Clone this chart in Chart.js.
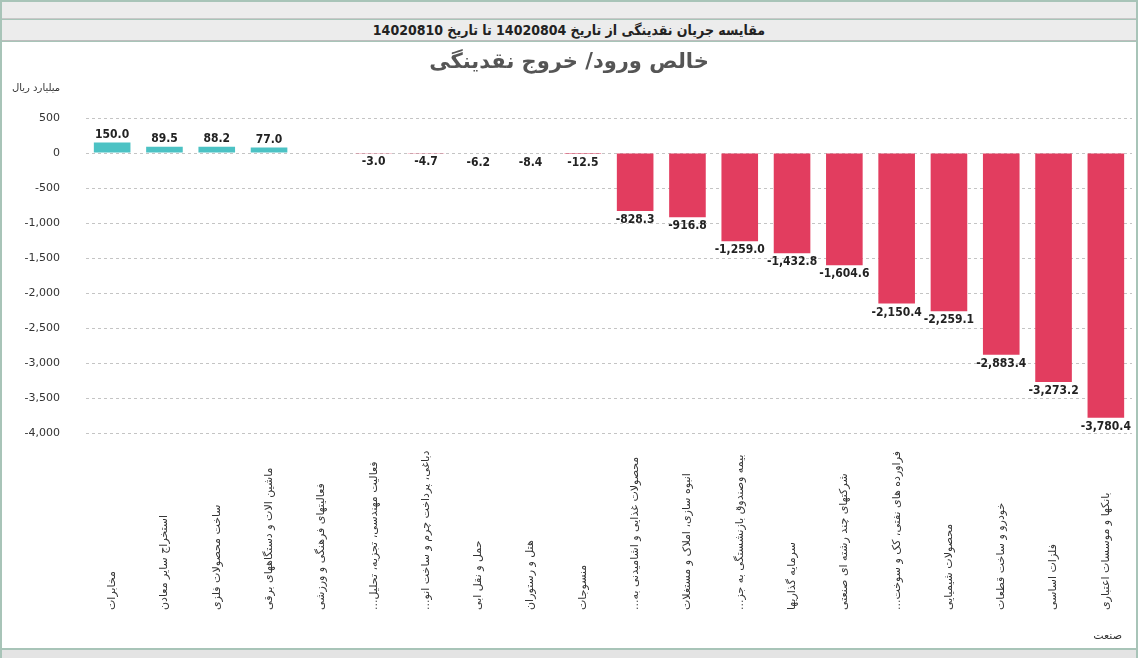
<!DOCTYPE html>
<html><head><meta charset="utf-8">
<script src="https://cdn.jsdelivr.net/npm/chart.js@4/dist/chart.umd.min.js"></script>
<style>
body{margin:0;width:1138px;height:658px;background:#a8c4b8;font-family:"DejaVu Sans",sans-serif;overflow:hidden;position:relative}
.bar1{position:absolute;left:2px;top:2px;width:1134px;height:16px;background:#ececec;border-bottom:1px solid #c8c8c8}
.bar2{position:absolute;left:2px;top:20px;width:1134px;height:20px;background:#ececec;border-bottom:1px solid #bdbdbd;text-align:center;font:bold 14px "DejaVu Sans Condensed","DejaVu Sans";line-height:20px;color:#222}
.panel{position:absolute;left:2px;top:42px;width:1134px;height:606px;background:#fff}
.title{position:absolute;left:0;width:1134px;top:7px;text-align:center;font:bold 21px "DejaVu Sans";color:#555}
.unit{position:absolute;left:10px;top:40px;font:10px "DejaVu Sans";color:#333}
.foot{position:absolute;left:2px;top:650px;width:1134px;height:8px;background:#e4e4e4}
.sanat{position:absolute;right:14px;bottom:6px;font:11px "DejaVu Sans";color:#333}
canvas{position:absolute;left:0;top:0}
</style></head><body>
<div class="bar1"></div>
<div class="bar2">مقایسه جریان نقدینگی از تاریخ 14020804 تا تاریخ 14020810</div>
<div class="panel">
  <canvas id="c" width="1134" height="606"></canvas>
  <div class="title">خالص ورود/ خروج نقدینگی</div>
  <div class="unit">میلیارد ریال</div>
  <div class="sanat">صنعت</div>
</div>
<div class="foot"></div>
<script>
// دسته‌ها و مقادیر (میلیارد ریال)
const categories = [
  "مخابرات", "استخراج سایر معادن", "ساخت محصولات فلزی", "ماشین الات و دستگاههای برقی",
  "فعالیتهای فرهنگی و ورزشی", "فعالیت مهندسی، تجزیه، تحلیل...", "دباغی، پرداخت چرم و ساخت انو...",
  "حمل و نقل ابی", "هتل و رستوران", "منسوجات", "محصولات غذایی و اشامیدنی به...",
  "انبوه سازی، املاک و مستغلات", "بیمه وصندوق بازنشستگی به جز...", "سرمایه گذاریها",
  "شرکتهای چند رشته ای صنعتی", "فراورده های نفتی، کک و سوخت...", "محصولات شیمیایی",
  "خودرو و ساخت قطعات", "فلزات اساسی", "بانکها و موسسات اعتباری"
];
const netFlow = [150.0, 89.5, 88.2, 77.0, 0, -3.0, -4.7, -6.2, -8.4, -12.5,
  -828.3, -916.8, -1259.0, -1432.8, -1604.6, -2150.4, -2259.1, -2883.4, -3273.2, -3780.4];
const yTicks = [500, 0, -500, -1000, -1500, -2000, -2500, -3000, -3500, -4000];

const fmt = (v) => v.toLocaleString("en-US", { minimumFractionDigits: 1, maximumFractionDigits: 1 });

const labelsPlugin = {
  id: "labels",
  afterDatasetsDraw(chart) {
    const ctx = chart.ctx;
    const meta = chart.getDatasetMeta(0);
    ctx.save();
    ctx.font = "bold 12px 'DejaVu Sans Condensed', 'DejaVu Sans'";
    ctx.fillStyle = "#222";
    ctx.textAlign = "center";
    meta.data.forEach((bar, i) => {
      const v = netFlow[i];
      if (v === 0) return;
      if (v > 0) { ctx.textBaseline = "bottom"; ctx.fillText(fmt(v), bar.x, bar.y - 2); }
      else { ctx.textBaseline = "top"; ctx.fillText(fmt(v), bar.x, bar.y + 3); }
    });
    // برچسب‌های محور افقی، عمودی و هم‌تراز پایین
    const xs = chart.scales.x;
    ctx.font = "11px 'DejaVu Sans'";
    ctx.fillStyle = "#333";
    ctx.textBaseline = "middle";
    ctx.direction = "rtl";
    ctx.textAlign = "left";
    categories.forEach((c, i) => {
      ctx.save();
      ctx.translate(xs.getPixelForValue(i), 568);
      ctx.rotate(-Math.PI / 2);
      ctx.fillText(c, 0, 0);
      ctx.restore();
    });
    ctx.restore();
  }
};

new Chart(document.getElementById("c"), {
  type: "bar",
  data: {
    labels: categories,
    datasets: [{
      data: netFlow,
      backgroundColor: netFlow.map((v) => (v >= 0 ? "#4cc2c4" : "#e23d5f")),
      barPercentage: 0.7,
      categoryPercentage: 1.0,
    }],
  },
  options: {
    responsive: false,
    animation: false,
    layout: { padding: { top: 76, right: 4, left: 0, bottom: 0 } },
    plugins: { legend: { display: false }, tooltip: { enabled: false } },
    scales: {
      x: {
        grid: { display: false },
        border: { display: false },
        ticks: { display: false },
        afterFit: (s) => { s.height = 215; },
      },
      y: {
        min: -4000, max: 500,
        afterFit: (s) => { s.width = 84; },
        afterBuildTicks: (s) => { s.ticks = yTicks.map((v) => ({ value: v })); },
        grid: { color: "#c4c4c4", tickLength: 0 },
        border: { display: false, dash: [3, 3] },
        ticks: { color: "#333", font: { family: "DejaVu Sans", size: 11 }, padding: 26, callback: (v) => v.toLocaleString("en-US") },
      },
    },
  },
  plugins: [labelsPlugin],
});
</script>
</body></html>
